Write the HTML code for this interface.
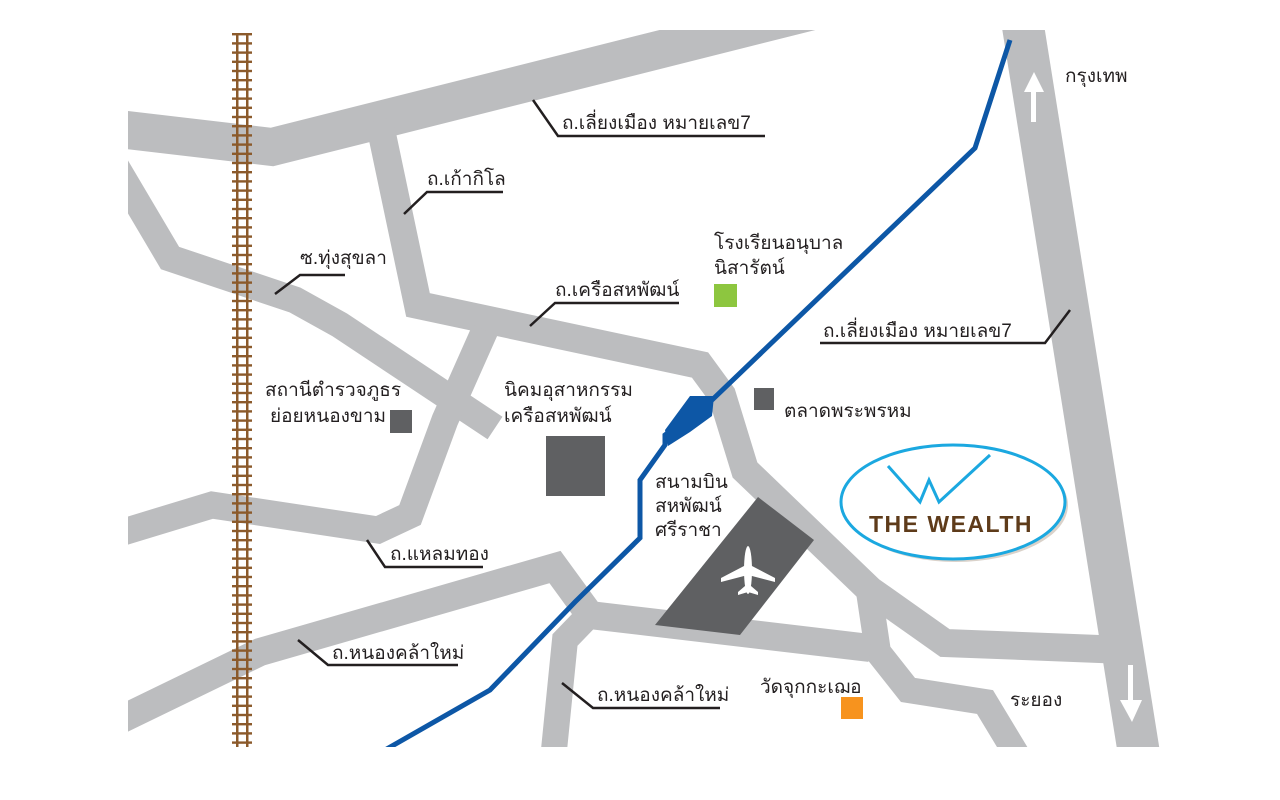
<!DOCTYPE html>
<html><head><meta charset="utf-8"><style>
html,body{margin:0;padding:0;background:#fff;width:1280px;height:800px;overflow:hidden}
svg text{font-family:"Liberation Sans","DejaVu Sans",sans-serif;fill:#231f20}
</style></head><body>
<svg width="1280" height="800" viewBox="0 0 1280 800" xmlns="http://www.w3.org/2000/svg">
<defs>
<clipPath id="c"><rect x="128" y="30" width="1035" height="717"/></clipPath>
<pattern id="ties" x="0" y="33" width="20" height="9.2" patternUnits="userSpaceOnUse">
<rect x="0" y="0" width="20" height="2.4" fill="#8b5a2b"/></pattern>
</defs>
<g clip-path="url(#c)" fill="none" stroke="#bcbdbf" stroke-linejoin="miter">
<polyline points="110,128 272,147 1000,-36" stroke-width="38"/>
<polyline points="1022,20 1140,760" stroke-width="42"/>
<polyline points="379,120 418,305 700,365 722,395 745,470 870,590 945,643 1125,650" stroke-width="28"/>
<polyline points="868,585 878,652 908,690 985,702 1020,760" stroke-width="26"/>
<polyline points="115,165 170,258 295,300 340,325 495,428" stroke-width="27"/>
<polyline points="485,330 445,420 410,515 378,530 212,505 120,533" stroke-width="27"/>
<polyline points="120,720 260,652 555,567 590,615 870,648" stroke-width="28"/>
<polyline points="592,612 565,640 553,760" stroke-width="26"/>
</g>
<polygon points="758,497 814,540 740,635 655,625" fill="#5f6062"/>
<g transform="translate(748,570)" fill="#fff">
<ellipse cx="0" cy="0" rx="4" ry="24"/>
<polygon points="-4,-4 -27,8 -27,12 -4,6 4,6 27,12 27,8 4,-4"/>
<polygon points="-3,16 -10,22 -10,25 0,22 10,25 10,22 3,16"/>
</g>
<g clip-path="url(#c)">
<polyline points="1010,40 975,148 712,400 665,435 665,445 640,480 640,538 575,602 490,690 385,750" fill="none" stroke="#0d57a6" stroke-width="5"/>
<polygon points="690,396 714,396 712,416 690,432 668,446 665,430" fill="#0d57a6"/>
</g>
<g>
<rect x="232" y="33" width="20" height="714" fill="url(#ties)"/>
<rect x="236" y="33" width="2.5" height="714" fill="#8b5a2b"/>
<rect x="246" y="33" width="2.5" height="714" fill="#8b5a2b"/>
</g>
<rect x="546" y="436" width="59" height="60" fill="#5f6062"/>
<rect x="390" y="410" width="22" height="23" fill="#5f6062"/>
<rect x="754" y="388" width="20" height="22" fill="#5f6062"/>
<rect x="714" y="284" width="23" height="23" fill="#8dc63f"/>
<rect x="841" y="697" width="22" height="22" fill="#f7931e"/>
<g fill="none" stroke="#231f20" stroke-width="2.5">
<polyline points="533,100 558,136 765,136"/>
<polyline points="404,214 427,192 503,192"/>
<polyline points="275,294 300,275 345,275"/>
<polyline points="530,326 555,303 679,303"/>
<polyline points="367,540 385,567 483,567"/>
<polyline points="298,640 328,665 458,665"/>
<polyline points="562,683 593,708 720,708"/>
<polyline points="1070,310 1045,343 820,343"/>
</g>
<g fill="#fff">
<rect x="1031" y="90" width="5" height="32"/>
<polygon points="1024,92 1034,72 1044,92"/>
<rect x="1128" y="665" width="5" height="35"/>
<polygon points="1120,700 1142,700 1132,722"/>
</g>
<g font-size="19">
<text x="562" y="129">ถ.เลี่ยงเมือง หมายเลข7</text>
<text x="427" y="185">ถ.เก้ากิโล</text>
<text x="300" y="264">ซ.ทุ่งสุขลา</text>
<text x="555" y="296">ถ.เครือสหพัฒน์</text>
<text x="714" y="249">โรงเรียนอนุบาล</text>
<text x="714" y="274">นิสารัตน์</text>
<text x="823" y="337">ถ.เลี่ยงเมือง หมายเลข7</text>
<text x="265" y="396">สถานีตำรวจภูธร</text>
<text x="270" y="422">ย่อยหนองขาม</text>
<text x="504" y="396">นิคมอุสาหกรรม</text>
<text x="504" y="422">เครือสหพัฒน์</text>
<text x="784" y="417">ตลาดพระพรหม</text>
<text x="655" y="488">สนามบิน</text>
<text x="655" y="512">สหพัฒน์</text>
<text x="655" y="536">ศรีราชา</text>
<text x="390" y="560">ถ.แหลมทอง</text>
<text x="332" y="659">ถ.หนองคล้าใหม่</text>
<text x="597" y="701">ถ.หนองคล้าใหม่</text>
<text x="760" y="693">วัดจุกกะเฌอ</text>
<text x="1065" y="82">กรุงเทพ</text>
<text x="1010" y="706">ระยอง</text>
</g>
<ellipse cx="953" cy="502" rx="112" ry="57" fill="#6b4a2a" opacity="0.25" transform="translate(3,3)"/>
<ellipse cx="953" cy="502" rx="112" ry="57" fill="#fff" stroke="#1ba8e0" stroke-width="3"/>
<polyline points="888,466 920,502 929,480 939,502 990,455" fill="none" stroke="#1ba8e0" stroke-width="3" stroke-linejoin="miter"/>
<text x="951" y="532" text-anchor="middle" font-size="23" font-weight="bold" style="fill:#5e3b1a;font-family:'Liberation Sans',sans-serif;letter-spacing:1.5px">THE WEALTH</text>
</svg>
</body></html>
